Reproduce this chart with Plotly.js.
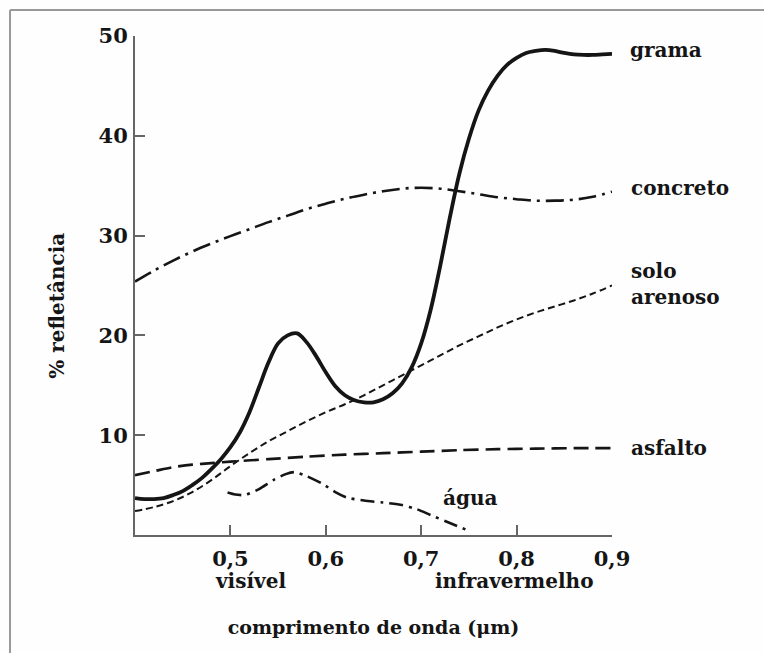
<!DOCTYPE html>
<html>
<head>
<meta charset="utf-8">
<script src="https://cdn.plot.ly/plotly-3.0.1.min.js"></script>
<style>
  html, body { margin: 0; padding: 0; background: #fefefe; }
  #chart { width: 764px; height: 653px; }
</style>
</head>
<body>
<div id="chart"></div>
<script>
// ---- data ----
const gramaX = [0.40, 0.41, 0.42, 0.43, 0.44, 0.45, 0.46, 0.47, 0.48, 0.49, 0.50, 0.51, 0.52, 0.53, 0.54, 0.55, 0.56, 0.57, 0.58, 0.59, 0.60, 0.61, 0.62, 0.63, 0.64, 0.65, 0.66, 0.67, 0.68, 0.69, 0.70, 0.71, 0.72, 0.73, 0.74, 0.75, 0.76, 0.77, 0.78, 0.79, 0.80, 0.81, 0.82, 0.83, 0.84, 0.85, 0.86, 0.87, 0.88, 0.89, 0.90];
const gramaY = [3.7, 3.6, 3.6, 3.7, 4.0, 4.4, 5.0, 5.7, 6.6, 7.6, 8.8, 10.3, 12.3, 14.8, 17.3, 19.2, 20.0, 20.2, 19.3, 17.9, 16.3, 14.9, 14.0, 13.5, 13.3, 13.3, 13.6, 14.2, 15.2, 16.8, 19.2, 22.6, 27.0, 31.8, 36.2, 39.7, 42.5, 44.5, 46.0, 47.1, 47.8, 48.3, 48.5, 48.6, 48.5, 48.3, 48.15, 48.1, 48.1, 48.15, 48.2];

const concretoX = [0.40, 0.42, 0.44, 0.46, 0.48, 0.50, 0.52, 0.54, 0.56, 0.58, 0.60, 0.62, 0.64, 0.66, 0.68, 0.70, 0.72, 0.74, 0.76, 0.78, 0.80, 0.82, 0.84, 0.86, 0.88, 0.90];
const concretoY = [25.4, 26.5, 27.5, 28.4, 29.2, 29.95, 30.65, 31.35, 32.0, 32.65, 33.2, 33.7, 34.1, 34.45, 34.7, 34.8, 34.7, 34.45, 34.15, 33.85, 33.65, 33.5, 33.5, 33.6, 33.9, 34.4];

const soloX = [0.40, 0.42, 0.44, 0.46, 0.48, 0.50, 0.52, 0.54, 0.56, 0.58, 0.60, 0.62, 0.64, 0.66, 0.68, 0.70, 0.72, 0.74, 0.76, 0.78, 0.80, 0.82, 0.84, 0.86, 0.88, 0.90];
const soloY = [2.4, 2.8, 3.4, 4.3, 5.5, 6.9, 8.2, 9.4, 10.4, 11.4, 12.3, 13.1, 14.0, 15.0, 16.0, 17.0, 18.0, 19.0, 19.9, 20.8, 21.6, 22.3, 22.9, 23.5, 24.2, 25.0];

const asfaltoX = [0.40, 0.42, 0.44, 0.46, 0.48, 0.50, 0.54, 0.58, 0.62, 0.66, 0.70, 0.74, 0.78, 0.82, 0.86, 0.90];
const asfaltoY = [6.0, 6.4, 6.8, 7.05, 7.2, 7.35, 7.6, 7.85, 8.05, 8.2, 8.35, 8.5, 8.6, 8.65, 8.7, 8.7];

const aguaX = [0.497, 0.505, 0.515, 0.53, 0.545, 0.558, 0.567, 0.58, 0.597, 0.61, 0.622, 0.64, 0.66, 0.68, 0.695, 0.71, 0.73, 0.748];
const aguaY = [4.25, 4.05, 4.0, 4.6, 5.5, 6.1, 6.3, 5.9, 5.1, 4.3, 3.75, 3.45, 3.25, 3.0, 2.6, 2.0, 1.2, 0.5];

const xTickVals = [0.5, 0.6, 0.7, 0.8, 0.9];
const xTickText = ["0,5", "0,6", "0,7", "0,8", "0,9"];
const yTickVals = [10, 20, 30, 40, 50];
const yTickText = ["10", "20", "30", "40", "50"];

const seriesLabels = ["grama", "concreto", "solo<br>arenoso", "asfalto", "água"];
const bandLabels = ["visível", "infravermelho"];
const xTitle = "comprimento de onda (μm)";
const yTitle = "% refletância";

// ---- styling ----
const FONT = "'DejaVu Serif', 'Liberation Serif', serif";
const INK = "#151515";

function line(x, y, width, dash, smoothing) {
  return {
    x: x, y: y, type: "scatter", mode: "lines",
    line: { color: INK, width: width, dash: dash, shape: "spline", smoothing: smoothing },
    hoverinfo: "skip", showlegend: false
  };
}

const traces = [
  line(gramaX, gramaY, 3.8, "solid", 1.0),
  line(concretoX, concretoY, 2.6, "18px,6px,3px,6px", 1.0),
  line(soloX, soloY, 2, "7px,4px", 1.0),
  line(asfaltoX, asfaltoY, 2.6, "15px,7px", 0.8),
  line(aguaX, aguaY, 2.6, "14px,6px,3px,6px", 0.6)
];

const lblFont = { family: FONT, size: 20, color: INK, weight: "bold" };
function lbl(text, x, y, xanchor, xref, yref) {
  return { text: text, x: x, y: y, xref: xref, yref: yref, xanchor: xanchor, yanchor: "middle",
           showarrow: false, font: lblFont, align: "left" };
}

const annotations = [
  lbl(seriesLabels[0], 1.034, 48.6, "left", "paper", "y"),
  lbl(seriesLabels[1], 1.036, 34.8, "left", "paper", "y"),
  lbl(seriesLabels[2], 1.036, 25.2, "left", "paper", "y"),
  lbl(seriesLabels[3], 1.036, 8.7, "left", "paper", "y"),
  lbl(seriesLabels[4], 0.751, 3.7, "center", "x", "y"),
  lbl(bandLabels[0], 0.521, -0.092, "center", "x", "paper"),
  lbl(bandLabels[1], 0.798, -0.092, "center", "x", "paper"),
  { text: yTitle, x: -0.164, y: 0.459, xref: "paper", yref: "paper", xanchor: "center", yanchor: "middle",
    textangle: -90, showarrow: false, font: lblFont }
];

const axisCommon = {
  showgrid: false, zeroline: false, showline: true,
  linecolor: "#666", linewidth: 2,
  ticks: "inside", ticklen: 10, tickwidth: 2, tickcolor: "#666",
  tickfont: { family: FONT, size: 21, color: INK, weight: "bold" },
  fixedrange: true
};

const layout = {
  width: 764, height: 653,
  margin: { l: 135, r: 152, t: 36, b: 118 },
  paper_bgcolor: "#fefefe", plot_bgcolor: "#fefefe",
  xaxis: Object.assign({}, axisCommon, {
    range: [0.4, 0.9], tickvals: xTickVals, ticktext: xTickText,
    ticklabelstandoff: 4,
    title: { text: xTitle, font: { family: FONT, size: 19, color: INK, weight: "bold" }, standoff: 50 }
  }),
  yaxis: Object.assign({}, axisCommon, {
    range: [0, 50], tickvals: yTickVals, ticktext: yTickText,
    ticklabelstandoff: 1
  }),
  annotations: annotations,
  shapes: [
    { type: "line", xref: "paper", yref: "paper", x0: -0.262, x1: 1.4, y0: 1.052, y1: 1.052,
      line: { color: "#999", width: 2 } },
    { type: "line", xref: "paper", yref: "paper", x0: -0.262, x1: -0.262, y0: 1.052, y1: -0.3,
      line: { color: "#999", width: 2 } }
  ],
  showlegend: false
};

Plotly.newPlot("chart", traces, layout, { displayModeBar: false, staticPlot: true });
</script>
</body>
</html>
